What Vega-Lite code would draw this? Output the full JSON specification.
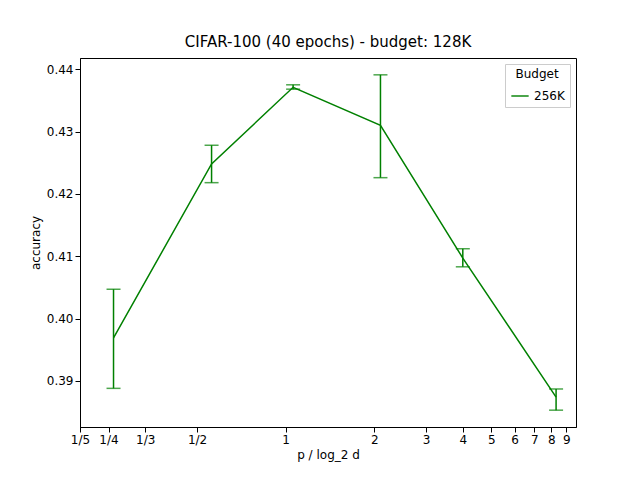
{
  "$schema": "https://vega.github.io/schema/vega-lite/v6.json",
  "autosize": {"type": "none"},
  "padding": {"left": 80, "top": 58, "right": 64, "bottom": 53},
  "width": 496,
  "height": 369,
  "background": "white",
  "title": {"text": "CIFAR-100 (40 epochs) - budget: 128K", "fontSize": 15, "fontWeight": "normal", "font": "DejaVu Sans", "offset": 8},
  "data": {
    "values": [
      {"p": 0.26, "acc": 0.3969, "lo": 0.3888, "hi": 0.4047, "Budget": "256K"},
      {"p": 0.56, "acc": 0.4248, "lo": 0.4218, "hi": 0.4278, "Budget": "256K"},
      {"p": 1.06, "acc": 0.4371, "lo": 0.4368, "hi": 0.4375, "Budget": "256K"},
      {"p": 2.1, "acc": 0.4310, "lo": 0.4226, "hi": 0.4391, "Budget": "256K"},
      {"p": 4.0, "acc": 0.4097, "lo": 0.4083, "hi": 0.4112, "Budget": "256K"},
      {"p": 8.3, "acc": 0.3874, "lo": 0.3853, "hi": 0.3887, "Budget": "256K"}
    ]
  },
  "encoding": {
    "x": {
      "field": "p", "type": "quantitative", "title": "p / log_2 d",
      "scale": {"type": "log", "base": 2, "domain": [0.2, 9.7], "nice": false, "zero": false},
      "axis": {
        "values": [0.2, 0.25, 0.3333, 0.5, 1, 2, 3, 4, 5, 6, 7, 8, 9],
        "labelExpr": "datum.value < 0.22 ? '1/5' : datum.value < 0.3 ? '1/4' : datum.value < 0.4 ? '1/3' : datum.value < 0.9 ? '1/2' : format(datum.value, 'd')",
        "grid": false, "domainColor": "black", "tickColor": "black", "labelColor": "black",
        "labelFontSize": 12, "titleFontSize": 12, "titleFontWeight": "normal", "labelFont": "DejaVu Sans", "titleFont": "DejaVu Sans", "labelFlush": false
      }
    },
    "color": {
      "field": "Budget", "type": "nominal",
      "scale": {"range": ["green"]},
      "legend": {"orient": "top-right", "offset": 6, "title": "Budget", "symbolType": "stroke", "symbolStrokeWidth": 2, "symbolSize": 300, "strokeColor": "#ccc", "padding": 5, "fillColor": "white", "labelFontSize": 12, "titleFontSize": 12, "titleFontWeight": "normal", "labelFont": "DejaVu Sans", "titleFont": "DejaVu Sans", "titleAnchor": "middle"}
    }
  },
  "layer": [
    {
      "mark": {"type": "line", "strokeWidth": 1.5},
      "encoding": {
        "y": {
          "field": "acc", "type": "quantitative", "title": "accuracy",
          "scale": {"domain": [0.3826, 0.4418], "nice": false, "zero": false},
          "axis": {"values": [0.39, 0.40, 0.41, 0.42, 0.43, 0.44], "format": ".2f", "grid": false, "domainColor": "black", "tickColor": "black", "labelColor": "black", "labelFontSize": 12, "titleFontSize": 12, "titleFontWeight": "normal", "labelFont": "DejaVu Sans", "titleFont": "DejaVu Sans"}
        }
      }
    },
    {
      "mark": {"type": "errorbar", "ticks": {"size": 14}, "thickness": 1.5},
      "encoding": {
        "y": {"field": "lo", "type": "quantitative", "title": "accuracy"},
        "y2": {"field": "hi"}
      }
    }
  ],
  "config": {"view": {"stroke": "black"}}
}
